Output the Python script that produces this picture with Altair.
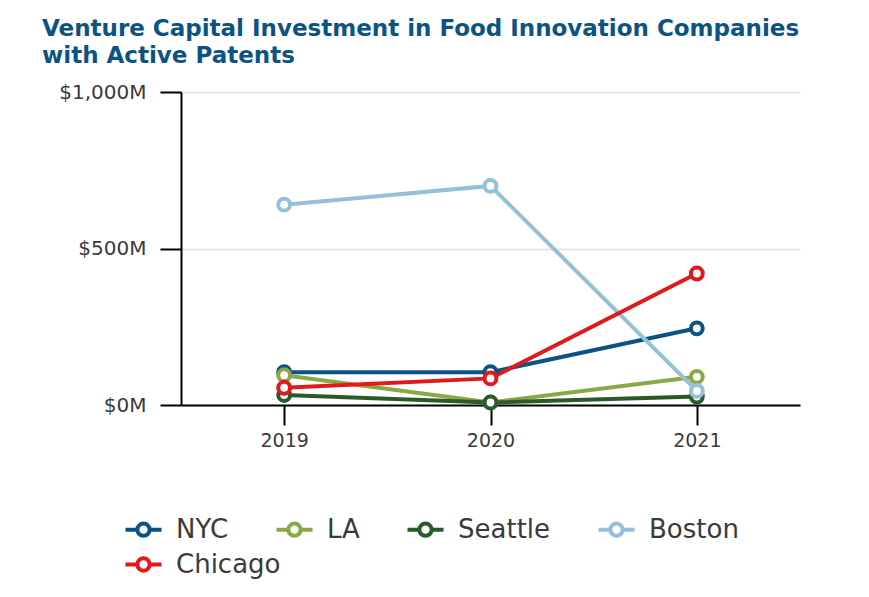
import altair as alt
import pandas as pd

years = ["2019", "2020", "2021"]
series = ["NYC", "LA", "Seattle", "Boston", "Chicago"]
colors = ["#0b5384", "#8aa845", "#2b5a2a", "#95c0da", "#e0191b"]
nyc = [105, 105, 245]
la = [95, 8, 90]
seattle = [32, 8, 27]
boston = [640, 700, 45]
chicago = [55, 85, 420]

values = {"NYC": nyc, "LA": la, "Seattle": seattle, "Boston": boston, "Chicago": chicago}
rows = []
for s in series:
    for y, v in zip(years, values[s]):
        rows.append({"year": y, "series": s, "value": v})
df = pd.DataFrame(rows)

FONT = "DejaVu Sans"
sym = "M-1,0L-0.34,0M0.34,0L1,0M0.34,0A0.34,0.34,0,1,1,-0.34,0A0.34,0.34,0,1,1,0.34,0Z"

legend_common = dict(
    title=None,
    orient="none",
    direction="horizontal",
    symbolType=sym,
    symbolSize=1300,
    symbolStrokeWidth=4,
    labelFontSize=26,
    labelFont=FONT,
    labelColor="#3a3a3a",
    columnPadding=39,
    symbolOffset=0,
    labelOffset=12,
)

color = alt.Color(
    "series:N",
    scale=alt.Scale(domain=series, range=colors),
    legend=alt.Legend(values=series[:4], legendX=-58, legendY=417, columns=4, **legend_common),
)
stroke = alt.Stroke(
    "series:N",
    scale=alt.Scale(domain=series, range=colors),
    legend=alt.Legend(values=series[4:], legendX=-58, legendY=452, columns=1, **legend_common),
)

x = alt.X(
    "year:N",
    sort=years,
    scale=alt.Scale(type="point", padding=0.5),
    axis=alt.Axis(
        title=None,
        labelAngle=0,
        labelFontSize=19,
        labelFont=FONT,
        labelColor="#3a3a3a",
        tickSize=20,
        tickWidth=2,
        tickColor="#000000",
        domainColor="#000000",
        domainWidth=2,
        grid=False,
        labelPadding=6,
    ),
)

y = alt.Y(
    "value:Q",
    scale=alt.Scale(domain=[0, 1000], nice=False),
    axis=alt.Axis(
        title=None,
        values=[0, 500, 1000],
        labelExpr="'$' + format(datum.value, ',') + 'M'",
        labelFontSize=20,
        labelFont=FONT,
        labelColor="#3a3a3a",
        tickSize=21,
        tickWidth=2,
        tickColor="#000000",
        domainColor="#000000",
        domainWidth=2,
        gridColor="#e6e6e6",
        gridWidth=2,
        labelPadding=14,
    ),
)

base = alt.Chart(df)
lines = base.mark_line(strokeWidth=4).encode(x=x, y=y, color=color)
points = base.mark_point(filled=False, fill="white", fillOpacity=1, opacity=1, size=140, strokeWidth=4).encode(
    x=x, y=y, stroke=stroke
)

chart = (
    alt.layer(lines, points)
    .resolve_legend(color="independent", stroke="independent")
    .properties(
        width=619,
        height=313,
        autosize=alt.AutoSizeParams(type="none"),
        padding={"left": 173, "top": 84, "right": 61, "bottom": 184},
        title=alt.Title(
            text=["Venture Capital Investment in Food Innovation Companies", "with Active Patents"],
            anchor="start",
            frame="group",
            dx=-139,
            font=FONT,
            fontSize=23,
            fontWeight="bold",
            color="#0b5384",
            lineHeight=27,
            offset=14,
        ),
    )
    .configure_view(stroke=None)
)

chart.save("out.html", embed_options={"renderer": "svg", "actions": False})
